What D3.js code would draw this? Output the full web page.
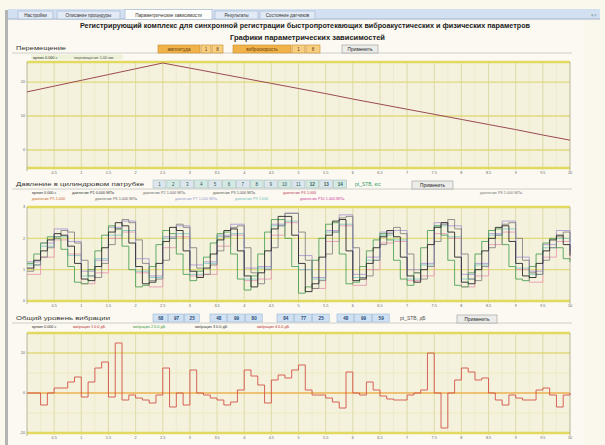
<!DOCTYPE html>
<html>
<head>
<meta charset="utf-8">
<script src="https://cdn.jsdelivr.net/npm/d3@7"></script>
<style>
  body { margin: 0; background: #faf7ec; }
  svg { display: block; font-family: "Liberation Sans", Arial, sans-serif; }
</style>
</head>
<body>
<svg id="chart" width="605" height="445"></svg>
<script>
// ---- data ----
const tabLabels = ["Настройки", "Описание процедуры", "Параметрические зависимости", "Результаты", "Состояние датчиков"];
const titleMain = "Регистрирующий комплекс для синхронной регистрации быстропротекающих виброакустических и физических параметров";
const titleSub = "Графики параметрических зависимостей";

const xTickLabels = ["0.5","1","1.5","2","2.5","3","3.5","4","4.5","5","5.5","6","6.5","7","7.5","8","8.5","9","9.5","10"];

// panel 1: displacement, one point every 0.5 s
const dispValues = [17.1, 18.8, 20.5, 22.2, 23.9, 25.6, 24.1, 22.6, 21.1, 19.6, 18.1,
                    16.6, 15.0, 13.5, 12.0, 10.5, 9.0, 7.5, 6.0, 4.4, 2.9];
const dispTicks = [0, 10, 20];

// panel 2: pressure, fine series every 0.125 s
const pressA = [1.05,1.30,1.60,1.95,2.15,2.10,1.75,1.20,0.70,0.65,
                1.10,1.70,2.20,2.50,2.40,1.85,1.10,0.55,0.60,1.20,
                1.90,2.35,2.25,1.60,0.95,0.75,1.05,1.50,1.95,2.25,
                2.30,1.60,0.80,0.45,0.90,1.60,2.30,2.70,2.70,2.10,
                1.20,0.30,0.55,1.40,2.10,2.55,2.60,1.60,0.65,0.70,
                1.20,1.70,2.05,2.25,2.05,1.40,0.80,0.60,1.00,1.80,
                2.35,2.50,2.20,1.40,0.60,0.55,1.00,1.60,2.00,2.35,
                2.40,1.90,1.20,0.80,0.75,1.20,1.60,1.95,2.10,1.80,
                1.45];
const pressB = [1.20,1.50,1.85,2.05,2.00,1.65,1.10,0.60,0.55,1.00,
                1.60,2.10,2.40,2.30,1.75,1.00,0.45,0.50,1.10,1.80,
                2.25,2.15,1.50,0.85,0.65,0.95,1.40,1.85,2.15,2.20,
                1.50,0.70,0.35,0.80,1.50,2.20,2.60,2.60,2.00,1.10,
                0.25,0.45,1.30,2.00,2.45,2.50,1.50,0.55,0.60,1.10,
                1.60,1.95,2.15,1.95,1.30,0.70,0.50,0.90,1.70,2.25,
                2.40,2.10,1.30,0.50,0.45,0.90,1.50,1.90,2.25,2.30,
                1.80,1.10,0.70,0.65,1.10,1.50,1.85,2.00,1.70,1.35,
                1.25];
const pressC = [0.95,1.15,1.40,1.70,2.05,2.25,2.20,1.85,1.30,0.80,
                0.75,1.20,1.80,2.30,2.60,2.50,1.95,1.20,0.65,0.70,
                1.30,2.00,2.45,2.35,1.70,1.05,0.85,1.15,1.60,2.05,
                2.35,2.40,1.70,0.90,0.55,1.00,1.70,2.40,2.80,2.80,
                2.20,1.30,0.40,0.65,1.50,2.20,2.65,2.70,1.70,0.75,
                0.80,1.30,1.80,2.15,2.35,2.15,1.50,0.90,0.70,1.10,
                1.90,2.45,2.60,2.30,1.50,0.70,0.65,1.10,1.70,2.10,
                2.45,2.50,2.00,1.30,0.90,0.85,1.30,1.70,2.05,2.20,
                1.90];
// coarse series every 0.25 s
const pressD = [1.25,1.85,2.30,1.90,0.95,1.30,2.35,2.55,1.35,0.80,
                2.05,2.40,1.15,1.25,2.10,2.45,1.05,1.10,2.45,2.80,
                1.45,0.75,2.25,2.75,0.85,1.40,2.20,2.25,1.00,1.20,
                2.50,2.40,0.85,1.20,2.15,2.55,1.40,0.95,1.80,2.25,1.60];
const pressE = [0.85,1.40,1.95,1.50,0.55,0.90,2.00,2.20,0.90,0.45,
                1.70,2.05,0.80,0.85,1.75,2.10,0.65,0.70,2.10,2.50,
                1.00,0.40,1.90,2.40,0.50,1.00,1.85,1.90,0.65,0.80,
                2.15,2.00,0.45,0.80,1.80,2.20,1.00,0.60,1.40,1.90,1.30];
const pressF = [1.15,1.75,2.05,1.45,0.80,1.35,2.10,2.25,0.95,0.75,
                2.00,2.15,0.85,1.20,2.05,2.15,0.70,1.05,2.40,2.55,
                1.00,0.70,2.20,2.45,0.75,1.30,2.10,1.95,0.70,1.15,
                2.40,2.05,0.70,1.15,2.10,2.30,1.05,0.85,1.70,2.00,1.55];
const pressTicks = [0, 1, 2, 3];

// panel 3: overall vibration level, every 0.125 s
const vibValues = [0,0,-6,0,2.5,2.5,5.5,8,-2,5.5,
                   12.5,15.5,-2,25,-3.5,-1,-2.5,-3.5,-5,-1,
                   12.5,-7,0,-6,11.5,0,-1,-2.5,-3.5,-6,
                   -4.5,1.5,11.5,8.5,4,-5,6.5,9,7.5,11.5,
                   14,1.5,-1,-1,-2.5,-4.5,-7.5,10.5,0,-1,
                   5.5,1.5,-1.5,-3,-3.5,-3.5,-1,0,1.5,20,
                   0,-17.5,0,6.5,12.5,10.5,6.5,7.5,0,-3.5,
                   -6,-1,-2.5,-3.5,-3.5,1.5,2.5,-1,-7,-1,
                   0];
const vibTicks = [-20, 0, 20];

const pressButtons = ["1","2","3","4","5","6","7","8","9","10","11","12","13","14"];
const vibButtons = [["68","97","25"], ["48","99","80"], ["84","77","25"], ["48","99","59"]];

const dispLegend = [["время 0.000 с", "#333"], ["перемещение 1.00 мм", "#555"]];
const pressLegend1 = [["время 0.000 с", "#333"], ["давление Р1 0.000 МПа", "#333"], ["давление Р2 1.000 МПа", "#666"],
                      ["давление Р3 1.000 МПа", "#555"], ["давление Р4 1.000", "#c04060"], ["давление Р8 1.000 МПа", "#777"]];
const pressLegend2 = [["давление Р5 1.000", "#c86a30"], ["давление Р6 1.000 МПа", "#666"], ["давление Р7 1.000 МПа", "#9a9ad0"],
                      ["давление Р9 1.000", "#70c0c0"], ["давление Р10 1.000 МПа", "#d040a0"]];
const vibLegend = [["время 0.000 с", "#333"], ["вибрация 1 0.0 дБ", "#c03030"], ["вибрация 2 0.0 дБ", "#3a9a3a"],
                   ["вибрация 3 0.0 дБ", "#333"], ["вибрация 4 0.0 дБ", "#c03030"]];

// ---- layout ----
const svg = d3.select("#chart");
const X0 = 27, X1 = 570;
const x = d3.scaleLinear().domain([0, 10]).range([X0, X1]);

// window background + left border
svg.append("rect").attr("x", 6).attr("y", 10).attr("width", 578).attr("height", 435).attr("fill", "#fbf9f1");
svg.append("rect").attr("x", 5).attr("y", 10).attr("width", 3).attr("height", 435).attr("fill", "#b4b4b4");

// tab strip
svg.append("rect").attr("x", 8).attr("y", 9).attr("width", 592).attr("height", 10).attr("fill", "#d3e0f1");
svg.append("line").attr("x1", 8).attr("x2", 600).attr("y1", 19).attr("y2", 19).attr("stroke", "#9fb2cc");
const tabPos = [[18, 35], [57, 63], [125, 87], [215, 43], [260, 55]];
tabLabels.forEach((t, i) => {
  const [tx, tw] = tabPos[i];
  const active = i === 2;
  svg.append("rect").attr("x", tx).attr("y", active ? 9.5 : 11).attr("width", tw).attr("height", active ? 10 : 8)
    .attr("fill", active ? "#fdfdfb" : "#e2eaf6").attr("stroke", "#9fb2cc").attr("stroke-width", 0.6);
  svg.append("text").attr("x", tx + tw / 2).attr("y", 17).attr("text-anchor", "middle")
    .attr("font-size", 4.6).attr("fill", "#333").text(t);
});
svg.append("text").attr("x", 594).attr("y", 17).attr("text-anchor", "middle").attr("font-size", 5).attr("fill", "#8aa").text("▾×");

// titles
svg.append("text").attr("x", 80).attr("y", 28).attr("textLength", 450).attr("lengthAdjust", "spacingAndGlyphs")
  .attr("font-size", 7).attr("font-weight", "bold").attr("fill", "#222").text(titleMain);
svg.append("text").attr("x", 230).attr("y", 40).attr("textLength", 155).attr("lengthAdjust", "spacingAndGlyphs")
  .attr("font-size", 7).attr("font-weight", "bold").attr("fill", "#222").text(titleSub);

function button(xp, yc, w, label) {
  svg.append("rect").attr("x", xp).attr("y", yc - 4).attr("width", w).attr("height", 8)
    .attr("fill", "#ececea").attr("stroke", "#9a9a9a").attr("stroke-width", 0.6);
  svg.append("text").attr("x", xp + w / 2).attr("y", yc + 1.7).attr("text-anchor", "middle")
    .attr("font-size", 4.8).attr("fill", "#222").text(label);
}

function header(yc, title, titleW, lineFrom) {
  svg.append("text").attr("x", 16).attr("y", yc + 2).attr("textLength", titleW).attr("lengthAdjust", "spacingAndGlyphs")
    .attr("font-size", 6).attr("fill", "#333").text(title);
  svg.append("line").attr("x1", 12).attr("x2", X1 + 2).attr("y1", yc + 5).attr("y2", yc + 5)
    .attr("stroke", "#c4c4c0").attr("stroke-width", 0.8);
}

function legendRow(yc, items, xs) {
  items.forEach(([t, c], i) => {
    svg.append("text").attr("x", xs[i]).attr("y", yc + 1.5).attr("font-size", 3.8).attr("fill", c).text(t);
  });
}

function plot(cfg) {
  const y = d3.scaleLinear().domain(cfg.domain).range([cfg.bottom, cfg.top]);
  const g = svg.append("g");
  g.append("rect").attr("x", X0).attr("y", cfg.top).attr("width", X1 - X0).attr("height", cfg.bottom - cfg.top)
    .attr("fill", "#f4f1dd");
  // vertical grid, minor and major
  g.selectAll(".vmin").data(d3.range(0.25, 10, 0.5)).join("line")
    .attr("x1", d => x(d)).attr("x2", d => x(d)).attr("y1", cfg.top).attr("y2", cfg.bottom)
    .attr("stroke", "#ebe7c6").attr("stroke-width", 0.6);
  g.selectAll(".vmaj").data(d3.range(0.5, 10, 0.5)).join("line")
    .attr("x1", d => x(d)).attr("x2", d => x(d)).attr("y1", cfg.top).attr("y2", cfg.bottom + 2)
    .attr("stroke", "#d8d49a").attr("stroke-width", 0.8);
  // horizontal grid
  g.selectAll(".hgrid").data(cfg.ticks).join("line")
    .attr("x1", X0).attr("x2", X1).attr("y1", d => y(d)).attr("y2", d => y(d))
    .attr("stroke", d => (cfg.zero && d === 0) ? "#eeb050" : "#e0da7a").attr("stroke-width", 1.3);
  if (cfg.minorTicks) {
    g.selectAll(".hmin").data(cfg.minorTicks).join("line")
      .attr("x1", X0).attr("x2", X1).attr("y1", d => y(d)).attr("y2", d => y(d))
      .attr("stroke", "#ebe6b4").attr("stroke-width", 0.7);
  }
  // frame bands
  [cfg.top, cfg.bottom].forEach(v => {
    g.append("line").attr("x1", X0).attr("x2", X1).attr("y1", v).attr("y2", v)
      .attr("stroke", "#e2da60").attr("stroke-width", 2.6);
  });
  g.append("line").attr("x1", X0).attr("x2", X0).attr("y1", cfg.top).attr("y2", cfg.bottom + 3)
    .attr("stroke", "#aaa886").attr("stroke-width", 0.8);
  g.append("line").attr("x1", X1).attr("x2", X1).attr("y1", cfg.top).attr("y2", cfg.bottom + 3)
    .attr("stroke", "#aaa886").attr("stroke-width", 0.8);
  // y labels
  g.selectAll(".ylab").data(cfg.ticks).join("text")
    .attr("x", X0 - 2).attr("y", d => y(d) + 1.3).attr("text-anchor", "end")
    .attr("font-size", 3.8).attr("fill", "#666").text(d => d);
  // x labels
  g.selectAll(".xlab").data(xTickLabels).join("text")
    .attr("x", (d, i) => x((i + 1) * 0.5)).attr("y", cfg.bottom + 6).attr("text-anchor", "middle")
    .attr("font-size", 3.8).attr("fill", "#666").text(d => d);
  // series
  cfg.series.forEach(s => {
    const line = d3.line()
      .x((d, i) => x(i * s.step))
      .y(d => y(d))
      .curve(s.curve || d3.curveStepAfter);
    g.append("path").datum(s.values).attr("d", line).attr("fill", "none")
      .attr("stroke", s.color).attr("stroke-width", s.width || 0.8).attr("opacity", s.opacity || 1);
  });
}

// ---- panel 1: displacement ----
header(48, "Перемещение", 50);
const orange = [[158, 42, "амплитуда"], [201, 10, "1"], [212, 11, "8"], [233, 58, "виброскорость"], [292, 13, "1"], [306, 14, "8"]];
orange.forEach(([bx, bw, t], i) => {
  svg.append("rect").attr("x", bx).attr("y", 45).attr("width", bw).attr("height", 8)
    .attr("fill", (i % 3 === 0) ? "#f0b34a" : "#f6cf82").attr("stroke", "#c9892a").attr("stroke-width", 0.6);
  svg.append("text").attr("x", bx + bw / 2).attr("y", 50.7).attr("text-anchor", "middle")
    .attr("font-size", 4.6).attr("fill", "#6a3c08").text(t);
});
button(342, 49, 36, "Применить");
svg.append("rect").attr("x", 31).attr("y", 54.5).attr("width", 92).attr("height", 5).attr("fill", "#eef2d8");
legendRow(57, dispLegend, [33, 74]);
plot({
  top: 62, bottom: 168, domain: [-5.3, 25.9], ticks: dispTicks,
  series: [{ values: dispValues, step: 0.5, color: "#9a4a55", width: 1, curve: d3.curveLinear }]
});

// ---- panel 2: pressure ----
header(184, "Давление в цилиндровом патрубке", 128);
pressButtons.forEach((t, i) => {
  const bw = 13.9;
  svg.append("rect").attr("x", 153 + i * bw).attr("y", 180).attr("width", bw - 1).attr("height", 8)
    .attr("fill", i % 2 ? "#d4e8e4" : "#dde6ec").attr("stroke", "#9bb8b8").attr("stroke-width", 0.5);
  svg.append("text").attr("x", 153 + i * bw + bw / 2 - 0.5).attr("y", 185.7).attr("text-anchor", "middle")
    .attr("font-size", 4.5).attr("font-weight", i > 10 ? "bold" : "normal").attr("fill", "#2f5a50").text(t);
});
svg.append("text").attr("x", 355).attr("y", 186).attr("font-size", 5).attr("fill", "#3a9a6a").text("pt_STB, кгс");
button(412, 185, 41, "Применить");
legendRow(192, pressLegend1, [32, 72, 143, 213, 283, 480]);
legendRow(198, pressLegend2, [32, 95, 175, 235, 300]);
plot({
  top: 207, bottom: 301, domain: [0, 3], ticks: pressTicks,
  series: [
    { values: pressE, step: 0.25, color: "#e890b0", width: 0.8 },
    { values: pressF, step: 0.25, color: "#78c8c8", width: 0.8 },
    { values: pressD, step: 0.25, color: "#a890d8", width: 0.8 },
    { values: pressB, step: 0.125, color: "#3d9a4a", width: 0.8 },
    { values: pressC, step: 0.125, color: "#7a7a7a", width: 0.8 },
    { values: pressA, step: 0.125, color: "#2a2a2a", width: 0.9 }
  ]
});

// ---- panel 3: vibration ----
header(318, "Общий уровень вибрации", 94);
const groupX = [153, 210, 277, 337];
vibButtons.forEach((grp, gi) => {
  grp.forEach((t, i) => {
    const bw = (gi === 0 ? 47 : 53) / 3;
    const bx = groupX[gi] + i * bw;
    svg.append("rect").attr("x", bx).attr("y", 314).attr("width", bw - 0.8).attr("height", 8)
      .attr("fill", "#cfe1f2").attr("stroke", "#8eaed0").attr("stroke-width", 0.5);
    svg.append("text").attr("x", bx + bw / 2).attr("y", 319.7).attr("text-anchor", "middle")
      .attr("font-size", 4.6).attr("font-weight", "bold").attr("fill", "#2a4a78").text(t);
  });
});
svg.append("text").attr("x", 400).attr("y", 320).attr("font-size", 5).attr("fill", "#555").text("pt_STB, дБ");
button(457, 319, 40, "Применить");
legendRow(326, vibLegend, [32, 73, 133, 195, 257]);
plot({
  top: 333, bottom: 433, domain: [-20, 30], ticks: vibTicks, minorTicks: [-10, 10], zero: true,
  series: [{ values: vibValues, step: 0.125, color: "#d4544a", width: 0.9 }]
});
</script>
</body>
</html>
